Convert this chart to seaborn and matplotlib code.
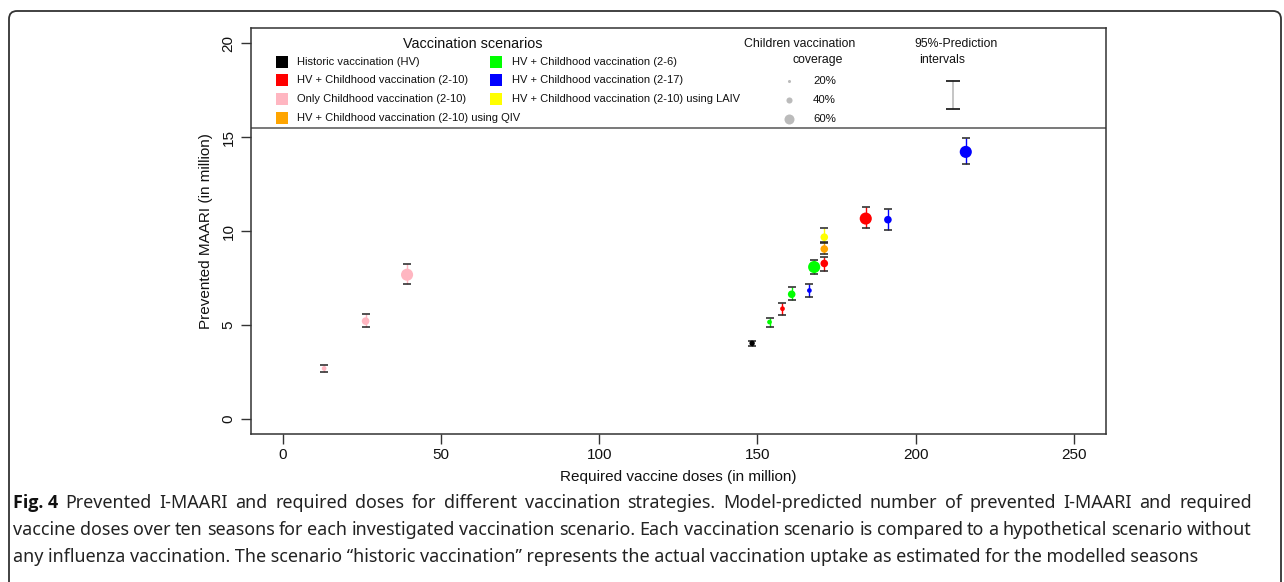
import numpy as np
import pandas as pd
import matplotlib
matplotlib.use("Agg")
import matplotlib.pyplot as plt
import seaborn as sns
from matplotlib.patches import FancyBboxPatch
from matplotlib import font_manager as fm

# ---------------- data ----------------
scenarios = [
    "Historic vaccination (HV)",
    "HV + Childhood vaccination (2-10)",
    "Only Childhood vaccination (2-10)",
    "HV + Childhood vaccination (2-10) using QIV",
    "HV + Childhood vaccination (2-6)",
    "HV + Childhood vaccination (2-17)",
    "HV + Childhood vaccination (2-10) using LAIV",
]
scenario_colors = ["#000000", "#FF0000", "#FFB6C1", "#FFA500", "#00FF00", "#0000FF", "#FFFF00"]
coverage_levels = ["20%", "40%", "60%"]

point_scenario = [0, 4, 1, 4, 5, 4, 1, 3, 6, 1, 5, 5, 2, 2, 2]
point_coverage = ["HV", "20%", "20%", "40%", "20%", "60%", "40%", "40%", "40%",
                  "60%", "40%", "60%", "20%", "40%", "60%"]
doses = [148.3, 153.8, 157.9, 160.8, 166.4, 167.9, 171.1, 171.1, 171.1,
         184.2, 191.2, 215.8, 13.1, 26.2, 39.3]
maari = [4.03, 5.16, 5.87, 6.64, 6.84, 8.09, 8.28, 9.05, 9.68,
         10.67, 10.61, 14.22, 2.69, 5.21, 7.68]
lower = [3.88, 4.91, 5.55, 6.36, 6.52, 7.70, 7.86, 8.76, 9.36,
         10.19, 10.08, 13.55, 2.51, 4.91, 7.21]
upper = [4.17, 5.37, 6.15, 7.00, 7.17, 8.44, 8.62, 9.43, 10.17,
         11.27, 11.17, 14.98, 2.88, 5.60, 8.23]

x_ticks = [0, 50, 100, 150, 200, 250]
y_ticks = [0, 5, 10, 15, 20]

caption_bold = "Fig. 4"
caption_lines = [
    "Prevented I-MAARI and required doses for different vaccination strategies. Model-predicted number of prevented I-MAARI and required",
    "vaccine doses over ten seasons for each investigated vaccination scenario. Each vaccination scenario is compared to a hypothetical scenario without",
    "any influenza vaccination. The scenario \u201chistoric vaccination\u201d represents the actual vaccination uptake as estimated for the modelled seasons",
]

# ---------------- style ----------------
sns.set_style("ticks")
plt.rcParams["font.family"] = ["Liberation Sans", "DejaVu Sans"]
EDGE = "#333333"

W, H, DPI = 1284, 582, 100
fig = plt.figure(figsize=(W / DPI, H / DPI), dpi=DPI)
ax = fig.add_axes([251 / W, 1 - 434 / H, (1105.7 - 251) / W, (434 - 28.3) / H])

df = pd.DataFrame({
    "scenario": [scenarios[i] for i in point_scenario],
    "coverage": point_coverage,
    "doses": doses,
    "maari": maari,
    "lower": lower,
    "upper": upper,
})
palette = dict(zip(scenarios, scenario_colors))
size_map = {"HV": 15.0, "20%": 11.5, "40%": 30.0, "60%": 76.0}

# error bars (coloured line, dark caps)
ax.vlines(df["doses"], df["lower"], df["upper"],
          colors=[palette[s] for s in df["scenario"]], linewidth=1.0, zorder=2)
ax.plot(df["doses"], df["lower"], ls="none", marker="_", ms=6.2, mew=1.1, color="#222222", zorder=2)
ax.plot(df["doses"], df["upper"], ls="none", marker="_", ms=6.2, mew=1.1, color="#222222", zorder=2)

sns.scatterplot(data=df, x="doses", y="maari", hue="scenario", size="coverage",
                palette=palette, sizes=size_map, hue_order=scenarios,
                linewidth=0, edgecolor="none", legend=False, ax=ax, zorder=3)

ax.set_xlim(-10, 260)
ax.set_ylim(-0.8, 20.8)
ax.set_xticks(x_ticks)
ax.set_yticks(y_ticks)
ax.set_xticklabels([str(v) for v in x_ticks])
ax.set_yticklabels([str(v) for v in y_ticks])
for lab in ax.get_yticklabels():
    lab.set_rotation(90)
    lab.set_va("center")
ax.tick_params(axis="both", length=7, width=1.0, color=EDGE, labelsize=11, labelcolor="#111111")
ax.tick_params(axis="x", pad=3)
ax.tick_params(axis="y", pad=4)
for sp in ax.spines.values():
    sp.set_visible(True)
    sp.set_color(EDGE)
    sp.set_linewidth(1.1)
ax.set_xlabel("Required vaccine doses (in million)", fontsize=11, color="#111111", labelpad=6)
ax.set_ylabel("Prevented MAARI (in million)", fontsize=11, color="#111111", labelpad=6)

# legend box separator
ax.axhline(15.5, color="#555555", lw=1.1, zorder=1)

# ---------------- legend (inside top band) ----------------
def axx(px):
    return (px - 251) / 854.7

def axy(py):
    return (434 - py) / 405.7

tr = ax.transAxes
ax.text(axx(473), axy(43.5), "Vaccination scenarios", transform=tr, ha="center", va="center",
        fontsize=10.4, color="#111111")
col_sq = [281.7, 495.7]
col_tx = [297, 511.7]
rows = [61.7, 80.3, 99.3, 118.3]
for i, (name, colr) in enumerate(zip(scenarios, scenario_colors)):
    c = 0 if i < 4 else 1
    r = i if i < 4 else i - 4
    ax.plot([axx(col_sq[c])], [axy(rows[r])], marker="s", ms=9.2, color=colr, mew=0,
            transform=tr, clip_on=False)
    ax.text(axx(col_tx[c]), axy(rows[r]), name, transform=tr, ha="left", va="center",
            fontsize=8.0, color="#111111")

ax.text(axx(800), axy(44.3), "Children vaccination", transform=tr, ha="center", va="center",
        fontsize=8.8, color="#111111")
ax.text(axx(818), axy(60.5), "coverage", transform=tr, ha="center", va="center",
        fontsize=8.8, color="#111111")
cov_rows = [80.7, 100, 118.7]
cov_ms = [2.2, 4.4, 7.2]
for lvl, ry, ms in zip(coverage_levels, cov_rows, cov_ms):
    ax.plot([axx(789.3)], [axy(ry)], marker="o", ms=ms, color="#BBBBBB", mew=0, transform=tr)
    ax.text(axx(813), axy(ry), lvl, transform=tr, ha="left", va="center", fontsize=8.2,
            color="#111111")

ax.text(axx(914), axy(44.3), "95%-Prediction", transform=tr, ha="left", va="center",
        fontsize=8.8, color="#111111")
ax.text(axx(919), axy(59.8), "intervals", transform=tr, ha="left", va="center",
        fontsize=8.8, color="#111111")
ax.plot([axx(953), axx(953)], [axy(80.7), axy(108.7)], color="#BBBBBB", lw=1.2, transform=tr)
for yy in (80.7, 108.7):
    ax.plot([axx(953)], [axy(yy)], marker="_", ms=9.5, mew=1.3, color="#222222", transform=tr)

# ---------------- figure frame ----------------
frame = FancyBboxPatch((9, -40), 1272, 571 + 40, boxstyle="round,pad=0,rounding_size=8",
                       transform=None, fill=False, edgecolor="#333333", linewidth=1.3)
fig.add_artist(frame)

# ---------------- caption ----------------
renderer = fig.canvas.get_renderer()
cap_family = ["Noto Sans", "DejaVu Sans"]
bold_family = ["DejaVu Sans"]
for fam in ["Noto Sans", "Open Sans", "Lato", "Roboto"]:
    try:
        p = fm.findfont(fm.FontProperties(family=fam, weight="bold"), fallback_to_default=False)
        if "bold" in p.lower():
            bold_family = [fam, "DejaVu Sans"]
            break
    except Exception:
        pass


def text_width(s, fs, bold=False):
    t = fig.text(0, 0, s, fontsize=fs, fontweight="bold" if bold else "normal",
                 family=bold_family if bold else cap_family)
    w = t.get_window_extent(renderer).width
    t.remove()
    return w

fs0 = 12.5
fs = fs0 * 1187 / text_width(caption_lines[2], fs0)

x0, right = 13, 1252
baselines = [508, 535, 562]


def draw_justified(words, bold_first, y_px):
    """place words so that the line spans x0..right (justified)."""
    widths = [text_width(w, fs, bold=(bold_first and i == 0)) for i, w in enumerate(words)]
    gap = (right - x0 - sum(widths)) / (len(words) - 1)
    x = x0
    for i, (w, wd) in enumerate(zip(words, widths)):
        b = bold_first and i == 0
        fig.text(x / W, 1 - y_px / H, w, fontsize=fs, fontweight="bold" if b else "normal",
                 family=bold_family if b else cap_family, va="baseline", ha="left",
                 color="#111111" if b else "#222222")
        x += wd + gap

draw_justified([caption_bold] + caption_lines[0].split(" "), True, baselines[0])
draw_justified(caption_lines[1].split(" "), False, baselines[1])
fig.text(x0 / W, 1 - baselines[2] / H, caption_lines[2], fontsize=fs, family=cap_family,
         va="baseline", ha="left", color="#222222")

fig.savefig("out.png", dpi=DPI, facecolor="white")
